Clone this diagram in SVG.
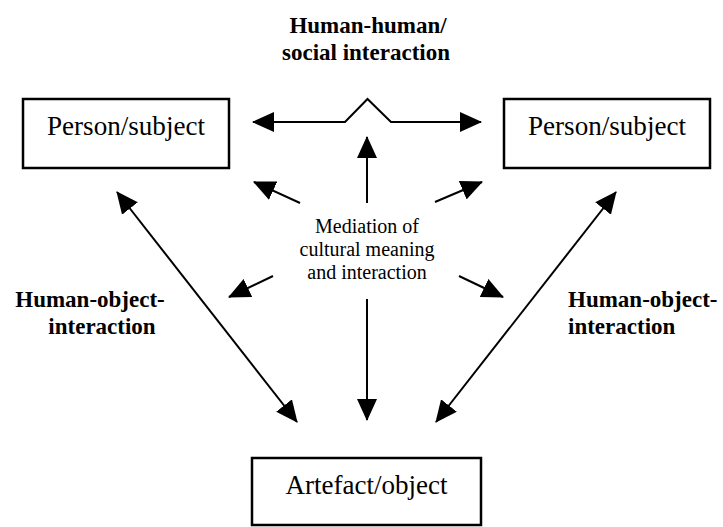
<svg xmlns="http://www.w3.org/2000/svg" width="723" height="527" viewBox="0 0 723 527">
<style>
  .box{fill:#fff;stroke:#000;stroke-width:2.5}
  .bt{font-family:"Liberation Serif","Times New Roman",serif;font-size:28px;fill:#000;text-anchor:middle}
  .lbl{font-family:"Liberation Serif","Times New Roman",serif;font-size:23px;font-weight:bold;fill:#000}
  .mid{font-family:"Liberation Serif","Times New Roman",serif;font-size:20px;fill:#000;text-anchor:middle}
  .c{fill:none;stroke:#000;stroke-width:2}
</style>
<defs>
  <marker id="ah" viewBox="0 0 22 20" refX="21" refY="10" markerWidth="22" markerHeight="20" markerUnits="userSpaceOnUse" orient="auto-start-reverse">
    <path d="M0,0 L22,10 L0,20 z" fill="#000"/>
  </marker>
</defs>
<rect width="723" height="527" fill="#fff"/>
<g id="person-left">
  <rect class="box" x="23" y="99" width="206" height="69"/>
  <text class="bt" x="126" y="135" textLength="158" lengthAdjust="spacingAndGlyphs">Person/subject</text>
</g>
<g id="person-right">
  <rect class="box" x="504" y="99" width="206" height="69"/>
  <text class="bt" x="607" y="135" textLength="158" lengthAdjust="spacingAndGlyphs">Person/subject</text>
</g>
<g id="artefact">
  <rect class="box" x="252" y="458" width="229" height="67"/>
  <text class="bt" x="366.5" y="494" textLength="162" lengthAdjust="spacingAndGlyphs">Artefact/object</text>
</g>
<g id="label-social">
  <text class="lbl" text-anchor="middle" x="368" y="33">Human-human/</text>
  <text class="lbl" text-anchor="middle" x="366" y="60">social interaction</text>
</g>
<g id="label-left">
  <text class="lbl" text-anchor="middle" x="90" y="307">Human-object-</text>
  <text class="lbl" text-anchor="middle" x="102" y="334">interaction</text>
</g>
<g id="label-right">
  <text class="lbl" x="568" y="307">Human-object-</text>
  <text class="lbl" x="568" y="334">interaction</text>
</g>
<g id="mediation">
  <text class="mid" x="367" y="233">Mediation of</text>
  <text class="mid" x="367" y="256">cultural meaning</text>
  <text class="mid" x="367" y="279">and interaction</text>
</g>
<g id="connectors">
  <path class="c" d="M253,122 L345,122 L367.5,99 L391,122 L481,122" marker-start="url(#ah)" marker-end="url(#ah)"/>
  <line class="c" x1="117" y1="192" x2="297" y2="422" marker-start="url(#ah)" marker-end="url(#ah)"/>
  <line class="c" x1="616" y1="192" x2="436" y2="422" marker-start="url(#ah)" marker-end="url(#ah)"/>
  <line class="c" x1="367" y1="203" x2="367" y2="137" marker-end="url(#ah)"/>
  <line class="c" x1="300" y1="203" x2="254" y2="182" marker-end="url(#ah)"/>
  <line class="c" x1="435" y1="202" x2="482" y2="182" marker-end="url(#ah)"/>
  <line class="c" x1="273" y1="276" x2="229" y2="297" marker-end="url(#ah)"/>
  <line class="c" x1="459" y1="276" x2="503" y2="297" marker-end="url(#ah)"/>
  <line class="c" x1="367" y1="299" x2="367" y2="420" marker-end="url(#ah)"/>
</g>
</svg>
